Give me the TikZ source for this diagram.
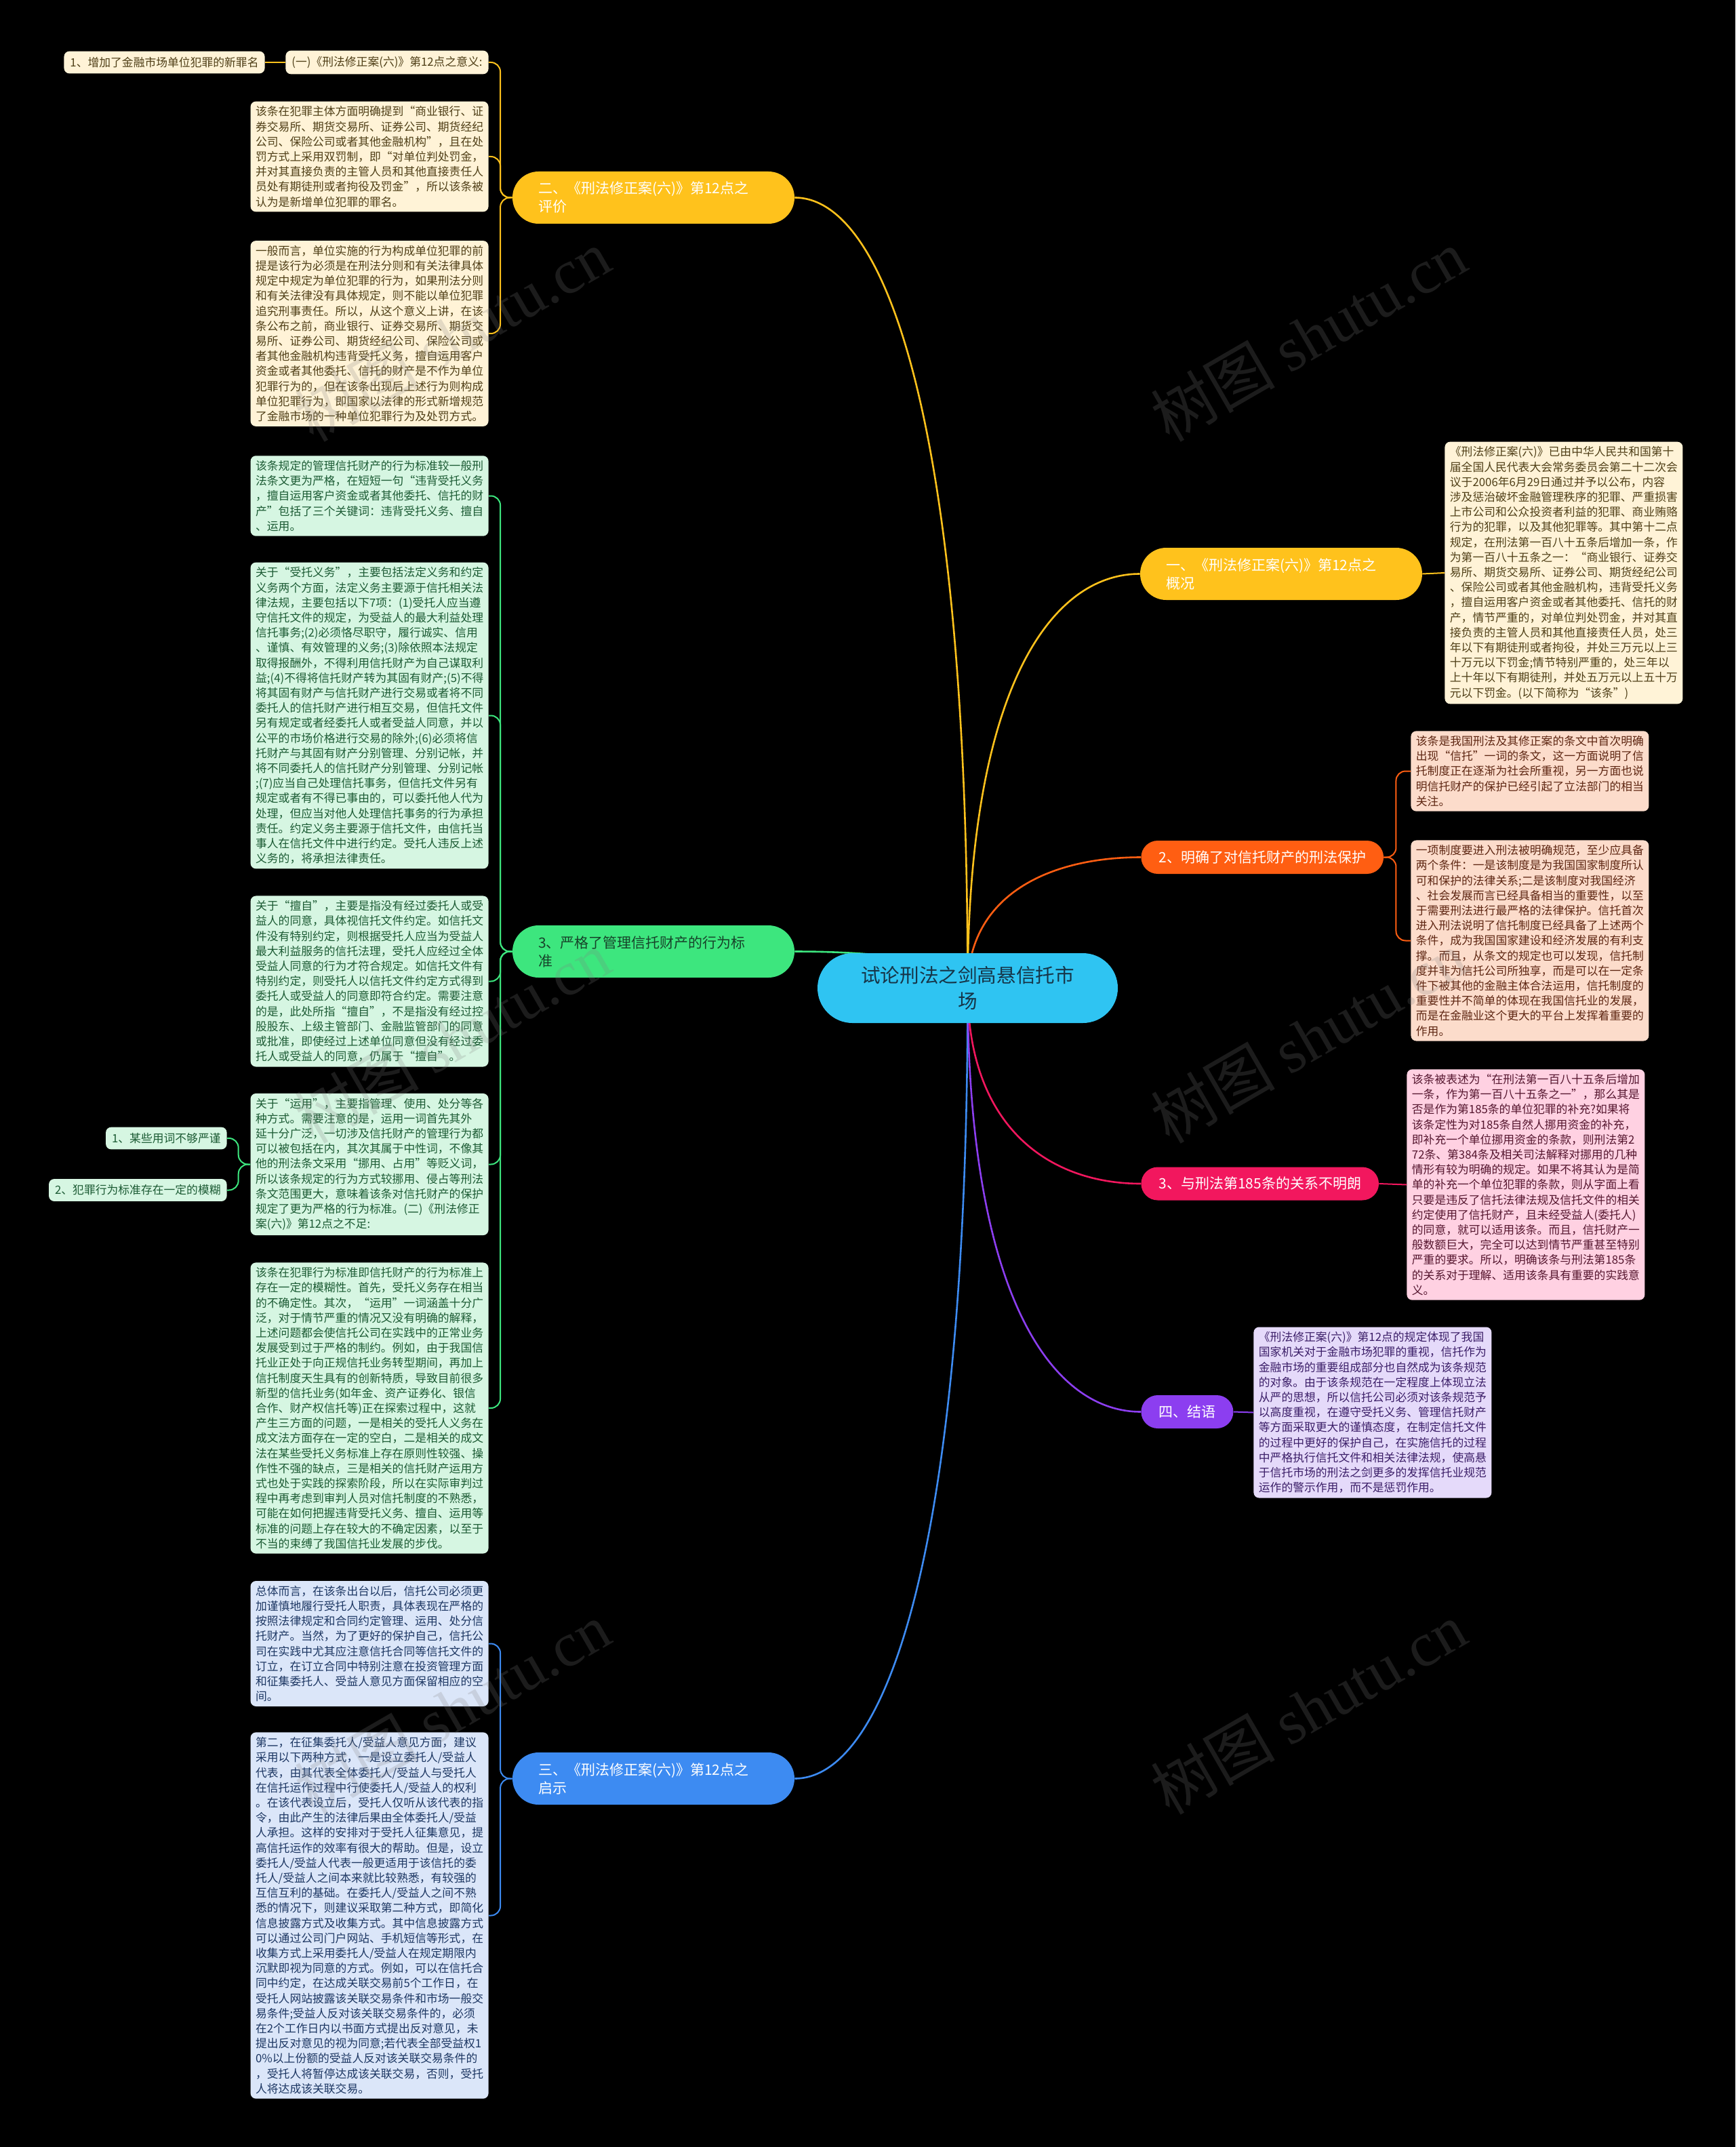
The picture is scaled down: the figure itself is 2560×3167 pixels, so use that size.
\documentclass[tikz,border=0pt]{standalone}
\usepackage{fontspec}
\setmainfont{Noto Sans CJK SC}
\newfontfamily\markfont{Liberation Serif}
\usetikzlibrary{calc,positioning}
\definecolor{cYel}{HTML}{FFC21C}
\definecolor{cYelL}{HTML}{FFF3D7}
\definecolor{cYelInk}{HTML}{4F3F17}
\definecolor{cGrn}{HTML}{3DE67E}
\definecolor{cGrnL}{HTML}{D6F6E2}
\definecolor{cGrnInk}{HTML}{1C5B34}
\definecolor{cGrnDk}{HTML}{17432A}
\definecolor{cBlu}{HTML}{3D8BF2}
\definecolor{cBluL}{HTML}{DBE6F9}
\definecolor{cBluInk}{HTML}{1D3763}
\definecolor{cOra}{HTML}{FF5E12}
\definecolor{cOraL}{HTML}{FCDCCB}
\definecolor{cOraInk}{HTML}{5E2612}
\definecolor{cPnk}{HTML}{F2175E}
\definecolor{cPnkL}{HTML}{FFD1E2}
\definecolor{cPnkInk}{HTML}{55162F}
\definecolor{cPur}{HTML}{8C3EF0}
\definecolor{cPurL}{HTML}{E5DAFA}
\definecolor{cPurInk}{HTML}{3B1E68}
\definecolor{cCyan}{HTML}{2FC4F2}
\definecolor{cCyanInk}{HTML}{163548}
% curve from the hub to a main branch
\newcommand{\branchline}[3]{%
  \draw[limb,color=#1] (#2) .. controls ($(#2)!0.72!(#2|-#3)$)
    and ($(#3)!0.52!(#2|-#3)$) .. (#3);}

\begin{document}
\begin{tikzpicture}[
  x=0.5pt, y=-0.5pt,
  leaf/.style={rounded corners=4pt,text width=168pt,align=left,
    inner xsep=3.75pt,inner ysep=3.5pt,font=\fontsize{8.4pt}{11.1pt}\selectfont},
  tag/.style={rounded corners=4pt,inner xsep=4.5pt,inner ysep=4.3pt,
    font=\fontsize{8.4pt}{10pt}\selectfont},
  pill/.style={rounded corners=12.25pt,minimum height=24.5pt,inner xsep=13pt,
    font=\fontsize{10.5pt}{13pt}\selectfont},
  pilltwo/.style={rounded corners=19.25pt,minimum height=38.5pt,text width=170pt,
    inner xsep=19pt,align=left,font=\fontsize{10.5pt}{13.5pt}\selectfont},
  hub/.style={rounded corners=25.75pt,minimum height=51.5pt,text width=160pt,
    inner xsep=30.75pt,align=center,font=\fontsize{14.3pt}{19pt}\selectfont},
  twig/.style={line width=1pt,rounded corners=7pt},
  limb/.style={line width=1.3pt},
  wmark/.style={rotate=30,text=gray,opacity=0.22,font=\fontsize{46pt}{50pt}\selectfont},
]
\useasboundingbox (0,0) rectangle (2560,3167);
\fill[black] (0,0) rectangle (2560,3167);
\coordinate (hubc) at (1427.5,1457.5);

% ============================================================ main branches
\node[pilltwo,fill=cYel,text=white] (bEval) at (964,291.5)
  {二、《刑法修正案(六)》第12点之\\评价};
\node[pilltwo,fill=cGrn,text=cGrnDk] (bStd) at (964,1403.5)
  {3、严格了管理信托财产的行为标\\准};
\node[pilltwo,fill=cBlu,text=white] (bHint) at (964,2623.5)
  {三、《刑法修正案(六)》第12点之\\启示};
\node[pilltwo,fill=cYel,text=white] (bIntro) at (1890,846.5)
  {一、《刑法修正案(六)》第12点之\\概况};
\node[pill,fill=cOra,text=white,anchor=west] (bProt) at (1683,1264.5)
  {2、明确了对信托财产的刑法保护};
\node[pill,fill=cPnk,text=white,anchor=west] (bRel) at (1683,1746)
  {3、与刑法第185条的关系不明朗};
\node[pill,fill=cPur,text=white,anchor=west] (bEnd) at (1683,2082.5)
  {四、结语};

% ============================================================ 二. evaluation
\node[tag,fill=cYelL,text=cYelInk,anchor=east] (eMean) at (721,92)
  {(一)《刑法修正案(六)》第12点之意义:};
\node[tag,fill=cYelL,text=cYelInk,left=15pt of eMean] (eNew)
  {1、增加了金融市场单位犯罪的新罪名};
\node[leaf,fill=cYelL,text=cYelInk,anchor=east] (eA) at (721,231)
  {该条在犯罪主体方面明确提到“商业银行、证\\
   券交易所、期货交易所、证券公司、期货经纪\\
   公司、保险公司或者其他金融机构”，且在处\\
   罚方式上采用双罚制，即“对单位判处罚金，\\
   并对其直接负责的主管人员和其他直接责任人\\
   员处有期徒刑或者拘役及罚金”，所以该条被\\
   认为是新增单位犯罪的罪名。};
\node[leaf,fill=cYelL,text=cYelInk,anchor=east] (eB) at (721,492)
  {一般而言，单位实施的行为构成单位犯罪的前\\
   提是该行为必须是在刑法分则和有关法律具体\\
   规定中规定为单位犯罪的行为，如果刑法分则\\
   和有关法律没有具体规定，则不能以单位犯罪\\
   追究刑事责任。所以，从这个意义上讲，在该\\
   条公布之前，商业银行、证券交易所、期货交\\
   易所、证券公司、期货经纪公司、保险公司或\\
   者其他金融机构违背受托义务，擅自运用客户\\
   资金或者其他委托、信托的财产是不作为单位\\
   犯罪行为的，但在该条出现后上述行为则构成\\
   单位犯罪行为，即国家以法律的形式新增规范\\
   了金融市场的一种单位犯罪行为及处罚方式。};

% ============================================================ 3. standard
\node[leaf,fill=cGrnL,text=cGrnInk,anchor=east] (sA) at (721,731.5)
  {该条规定的管理信托财产的行为标准较一般刑\\
   法条文更为严格，在短短一句“违背受托义务\\
   ，擅自运用客户资金或者其他委托、信托的财\\
   产”包括了三个关键词：违背受托义务、擅自\\
   、运用。};
\node[leaf,fill=cGrnL,text=cGrnInk,anchor=east] (sB) at (721,1055.5)
  {关于“受托义务”，主要包括法定义务和约定\\
   义务两个方面，法定义务主要源于信托相关法\\
   律法规，主要包括以下7项：(1)受托人应当遵\\
   守信托文件的规定，为受益人的最大利益处理\\
   信托事务;(2)必须恪尽职守，履行诚实、信用\\
   、谨慎、有效管理的义务;(3)除依照本法规定\\
   取得报酬外，不得利用信托财产为自己谋取利\\
   益;(4)不得将信托财产转为其固有财产;(5)不得\\
   将其固有财产与信托财产进行交易或者将不同\\
   委托人的信托财产进行相互交易，但信托文件\\
   另有规定或者经委托人或者受益人同意，并以\\
   公平的市场价格进行交易的除外;(6)必须将信\\
   托财产与其固有财产分别管理、分别记帐，并\\
   将不同委托人的信托财产分别管理、分别记帐\\
   ;(7)应当自己处理信托事务，但信托文件另有\\
   规定或者有不得已事由的，可以委托他人代为\\
   处理，但应当对他人处理信托事务的行为承担\\
   责任。约定义务主要源于信托文件，由信托当\\
   事人在信托文件中进行约定。受托人违反上述\\
   义务的，将承担法律责任。};
\node[leaf,fill=cGrnL,text=cGrnInk,anchor=east] (sC) at (721,1447.5)
  {关于“擅自”，主要是指没有经过委托人或受\\
   益人的同意，具体视信托文件约定。如信托文\\
   件没有特别约定，则根据受托人应当为受益人\\
   最大利益服务的信托法理，受托人应经过全体\\
   受益人同意的行为才符合规定。如信托文件有\\
   特别约定，则受托人以信托文件约定方式得到\\
   委托人或受益人的同意即符合约定。需要注意\\
   的是，此处所指“擅自”，不是指没有经过控\\
   股股东、上级主管部门、金融监管部门的同意\\
   或批准，即使经过上述单位同意但没有经过委\\
   托人或受益人的同意，仍属于“擅自”。};
\node[leaf,fill=cGrnL,text=cGrnInk,anchor=east] (sD) at (721,1717.5)
  {关于“运用”，主要指管理、使用、处分等各\\
   种方式。需要注意的是，运用一词首先其外\\
   延十分广泛，一切涉及信托财产的管理行为都\\
   可以被包括在内，其次其属于中性词，不像其\\
   他的刑法条文采用“挪用、占用”等贬义词，\\
   所以该条规定的行为方式较挪用、侵占等刑法\\
   条文范围更大，意味着该条对信托财产的保护\\
   规定了更为严格的行为标准。(二)《刑法修正\\
   案(六)》第12点之不足:};
\node[tag,fill=cGrnL,text=cGrnInk,anchor=east] (sW1) at (335,1679)
  {1、某些用词不够严谨};
\node[tag,fill=cGrnL,text=cGrnInk,anchor=east] (sW2) at (335,1755.5)
  {2、犯罪行为标准存在一定的模糊};
\node[leaf,fill=cGrnL,text=cGrnInk,anchor=east] (sE) at (721,2077)
  {该条在犯罪行为标准即信托财产的行为标准上\\
   存在一定的模糊性。首先，受托义务存在相当\\
   的不确定性。其次，“运用”一词涵盖十分广\\
   泛，对于情节严重的情况又没有明确的解释，\\
   上述问题都会使信托公司在实践中的正常业务\\
   发展受到过于严格的制约。例如，由于我国信\\
   托业正处于向正规信托业务转型期间，再加上\\
   信托制度天生具有的创新特质，导致目前很多\\
   新型的信托业务(如年金、资产证券化、银信\\
   合作、财产权信托等)正在探索过程中，这就\\
   产生三方面的问题，一是相关的受托人义务在\\
   成文法方面存在一定的空白，二是相关的成文\\
   法在某些受托义务标准上存在原则性较强、操\\
   作性不强的缺点，三是相关的信托财产运用方\\
   式也处于实践的探索阶段，所以在实际审判过\\
   程中再考虑到审判人员对信托制度的不熟悉，\\
   可能在如何把握违背受托义务、擅自、运用等\\
   标准的问题上存在较大的不确定因素，以至于\\
   不当的束缚了我国信托业发展的步伐。};

% ============================================================ 三. hints
\node[leaf,fill=cBluL,text=cBluInk,anchor=east] (hA) at (721,2424.5)
  {总体而言，在该条出台以后，信托公司必须更\\
   加谨慎地履行受托人职责，具体表现在严格的\\
   按照法律规定和合同约定管理、运用、处分信\\
   托财产。当然，为了更好的保护自己，信托公\\
   司在实践中尤其应注意信托合同等信托文件的\\
   订立，在订立合同中特别注意在投资管理方面\\
   和征集委托人、受益人意见方面保留相应的空\\
   间。};
\node[leaf,fill=cBluL,text=cBluInk,anchor=east] (hB) at (721,2825.5)
  {第二，在征集委托人/受益人意见方面，建议\\
   采用以下两种方式，一是设立委托人/受益人\\
   代表，由其代表全体委托人/受益人与受托人\\
   在信托运作过程中行使委托人/受益人的权利\\
   。在该代表设立后，受托人仅听从该代表的指\\
   令，由此产生的法律后果由全体委托人/受益\\
   人承担。这样的安排对于受托人征集意见，提\\
   高信托运作的效率有很大的帮助。但是，设立\\
   委托人/受益人代表一般更适用于该信托的委\\
   托人/受益人之间本来就比较熟悉，有较强的\\
   互信互利的基础。在委托人/受益人之间不熟\\
   悉的情况下，则建议采取第二种方式，即简化\\
   信息披露方式及收集方式。其中信息披露方式\\
   可以通过公司门户网站、手机短信等形式，在\\
   收集方式上采用委托人/受益人在规定期限内\\
   沉默即视为同意的方式。例如，可以在信托合\\
   同中约定，在达成关联交易前5个工作日，在\\
   受托人网站披露该关联交易条件和市场一般交\\
   易条件;受益人反对该关联交易条件的，必须\\
   在2个工作日内以书面方式提出反对意见，未\\
   提出反对意见的视为同意;若代表全部受益权1\\
   0\%以上份额的受益人反对该关联交易条件的\\
   ，受托人将暂停达成该关联交易，否则，受托\\
   人将达成该关联交易。};

% ============================================================ right side
\node[leaf,fill=cYelL,text=cYelInk,anchor=west] (iA) at (2131,845)
  {《刑法修正案(六)》已由中华人民共和国第十\\
   届全国人民代表大会常务委员会第二十二次会\\
   议于2006年6月29日通过并予以公布，内容\\
   涉及惩治破坏金融管理秩序的犯罪、严重损害\\
   上市公司和公众投资者利益的犯罪、商业贿赂\\
   行为的犯罪，以及其他犯罪等。其中第十二点\\
   规定，在刑法第一百八十五条后增加一条，作\\
   为第一百八十五条之一：“商业银行、证券交\\
   易所、期货交易所、证券公司、期货经纪公司\\
   、保险公司或者其他金融机构，违背受托义务\\
   ，擅自运用客户资金或者其他委托、信托的财\\
   产，情节严重的，对单位判处罚金，并对其直\\
   接负责的主管人员和其他直接责任人员，处三\\
   年以下有期徒刑或者拘役，并处三万元以上三\\
   十万元以下罚金;情节特别严重的，处三年以\\
   上十年以下有期徒刑，并处五万元以上五十万\\
   元以下罚金。(以下简称为“该条”)};
\node[leaf,fill=cOraL,text=cOraInk,anchor=west] (pA) at (2081,1137.5)
  {该条是我国刑法及其修正案的条文中首次明确\\
   出现“信托”一词的条文，这一方面说明了信\\
   托制度正在逐渐为社会所重视，另一方面也说\\
   明信托财产的保护已经引起了立法部门的相当\\
   关注。};
\node[leaf,fill=cOraL,text=cOraInk,anchor=west] (pB) at (2081,1387.5)
  {一项制度要进入刑法被明确规范，至少应具备\\
   两个条件：一是该制度是为我国国家制度所认\\
   可和保护的法律关系;二是该制度对我国经济\\
   、社会发展而言已经具备相当的重要性，以至\\
   于需要刑法进行最严格的法律保护。信托首次\\
   进入刑法说明了信托制度已经具备了上述两个\\
   条件，成为我国国家建设和经济发展的有利支\\
   撑。而且，从条文的规定也可以发现，信托制\\
   度并非为信托公司所独享，而是可以在一定条\\
   件下被其他的金融主体合法运用，信托制度的\\
   重要性并不简单的体现在我国信托业的发展，\\
   而是在金融业这个更大的平台上发挥着重要的\\
   作用。};
\node[leaf,fill=cPnkL,text=cPnkInk,anchor=west] (rA) at (2075,1747.5)
  {该条被表述为“在刑法第一百八十五条后增加\\
   一条，作为第一百八十五条之一”，那么其是\\
   否是作为第185条的单位犯罪的补充?如果将\\
   该条定性为对185条自然人挪用资金的补充，\\
   即补充一个单位挪用资金的条款，则刑法第2\\
   72条、第384条及相关司法解释对挪用的几种\\
   情形有较为明确的规定。如果不将其认为是简\\
   单的补充一个单位犯罪的条款，则从字面上看\\
   只要是违反了信托法律法规及信托文件的相关\\
   约定使用了信托财产，且未经受益人(委托人)\\
   的同意，就可以适用该条。而且，信托财产一\\
   般数额巨大，完全可以达到情节严重甚至特别\\
   严重的要求。所以，明确该条与刑法第185条\\
   的关系对于理解、适用该条具有重要的实践意\\
   义。};
\node[leaf,fill=cPurL,text=cPurInk,anchor=west] (zA) at (1849,2083.5)
  {《刑法修正案(六)》第12点的规定体现了我国\\
   国家机关对于金融市场犯罪的重视，信托作为\\
   金融市场的重要组成部分也自然成为该条规范\\
   的对象。由于该条规范在一定程度上体现立法\\
   从严的思想，所以信托公司必须对该条规范予\\
   以高度重视，在遵守受托义务、管理信托财产\\
   等方面采取更大的谨慎态度，在制定信托文件\\
   的过程中更好的保护自己，在实施信托的过程\\
   中严格执行信托文件和相关法律法规，使高悬\\
   于信托市场的刑法之剑更多的发挥信托业规范\\
   运作的警示作用，而不是惩罚作用。};

% ============================================================ connectors
\draw[twig,color=cYel] (eMean.west) -- (eNew.east);
\foreach \t in {eMean,eA,eB}
  \draw[twig,color=cYel] (bEval.west) -- ++(-17.5,0) |- (\t.east);
\foreach \t in {sA,sB,sC,sD,sE}
  \draw[twig,color=cGrn] (bStd.west) -- ++(-17.5,0) |- (\t.east);
\foreach \t in {sW1,sW2}
  \draw[twig,color=cGrn] (sD.west) -- ++(-17.5,0) |- (\t.east);
\foreach \t in {hA,hB}
  \draw[twig,color=cBlu] (bHint.west) -- ++(-17.5,0) |- (\t.east);
\draw[twig,color=cYel] (bIntro.east) -- (iA.west);
\foreach \t in {pA,pB}
  \draw[twig,color=cOra] (bProt.east) -- ++(18,0) |- (\t.west);
\draw[twig,color=cPnk] (bRel.east) -- (rA.west);
\draw[twig,color=cPur] (bEnd.east) -- (zA.west);

% curves from the hub, drawn before the hub itself
\branchline{cYel}{hubc}{bEval.east}
\branchline{cGrn}{hubc}{bStd.east}
\branchline{cBlu}{hubc}{bHint.east}
\branchline{cYel}{hubc}{bIntro.west}
\branchline{cOra}{hubc}{bProt.west}
\branchline{cPnk}{hubc}{bRel.west}
\branchline{cPur}{hubc}{bEnd.west}

\node[hub,fill=cCyan,text=cCyanInk] (cen) at (hubc) {试论刑法之剑高悬信托市\\场};

% ============================================================ watermarks
\foreach \wx/\wy [count=\k] in {667/495,1930/495,667/1530,1930/1530,667/2520,1930/2520}
  \node[wmark] (wm\k) at (\wx,\wy) {树图 {\markfont shutu.cn}};

\end{tikzpicture}
\end{document}
